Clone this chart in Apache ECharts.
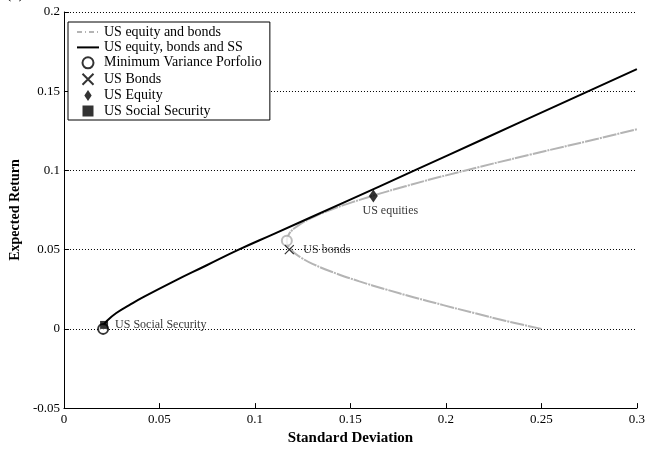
<!DOCTYPE html>
<html>
<head>
<meta charset="utf-8">
<script src="https://cdn.jsdelivr.net/npm/echarts@6/dist/echarts.min.js"></script>
<style>
html,body{margin:0;padding:0;background:#fff;}
#c{width:648px;height:451px;}
</style>
</head>
<body>
<div id="c"></div>
<script>
// Efficient frontier: US equity, bonds and Social Security (black)
const ssFrontierSigma = [0.0206, 0.0224, 0.0274, 0.0342, 0.0415, 0.0575, 0.0745, 0.0915, 0.1100, 0.1470, 0.1836, 0.2200, 0.2563, 0.3000];
const ssFrontierMu    = [0.002, 0.005, 0.010, 0.015, 0.020, 0.030, 0.040, 0.050, 0.060, 0.080, 0.100, 0.120, 0.140, 0.164];
// Efficient frontier: US equity and bonds (gray)
const ebFrontierSigma = [0.2500, 0.2315, 0.2149, 0.1986, 0.1830, 0.1683, 0.1547, 0.1425, 0.1321, 0.1241, 0.1189, 0.1167, 0.1179, 0.1224, 0.1297, 0.1394, 0.1511, 0.1788, 0.2103, 0.2442, 0.2795, 0.3000];
const ebFrontierMu    = [0.000, 0.005, 0.010, 0.015, 0.020, 0.025, 0.030, 0.035, 0.040, 0.045, 0.050, 0.0557, 0.060, 0.065, 0.070, 0.075, 0.080, 0.090, 0.100, 0.110, 0.120, 0.126];
// Points
const minVarSigma = [0.0205, 0.1167];
const minVarMu    = [0.000, 0.0557];
const bondsPoint  = [0.118, 0.050];
const equityPoint = [0.162, 0.0838];
const ssPoint     = [0.021, 0.0025];
const xTicks = [0, 0.05, 0.1, 0.15, 0.2, 0.25, 0.3];
const yTicks = [-0.05, 0, 0.05, 0.1, 0.15, 0.2];

const FONT = 'Liberation Serif';
const zip = (a, b) => a.map((v, i) => [v, b[i]]);
const DIAMOND = 'path://M4,0L8,6L4,12L0,6Z';
const SQUARE = 'path://M0,0H8V8H0Z';
const CROSS = 'path://M0,0L10,10M10,0L0,10';

const chart = echarts.init(document.getElementById('c'), null, {renderer: 'canvas'});
chart.setOption({
  animation: false,
  backgroundColor: '#fff',
  textStyle: {fontFamily: FONT},
  graphic: [{
    type: 'text', left: 6, top: -14,
    style: {text: '(a)', font: '16px "Liberation Serif"', fill: '#000'}
  }],
  grid: {left: 56, right: 8, top: 12, bottom: 39, containLabel: false},
  legend: {
    left: 68, top: 22, orient: 'vertical',
    backgroundColor: '#fff',
    borderColor: '#000', borderWidth: 1,
    padding: [3, 8, 2, 8],
    itemWidth: 22, itemHeight: 11, itemGap: 1.4,
    textStyle: {fontFamily: FONT, fontSize: 14, lineHeight: 14, color: '#000'},
    data: [
      {name: 'US equity and bonds', itemStyle: {opacity: 0},
        lineStyle: {type: [5, 3, 1, 3], width: 2, color: '#b4b4b4'}},
      {name: 'US equity, bonds and SS', itemStyle: {opacity: 0}},
      {name: 'Minimum Variance Porfolio'},
      {name: 'US Bonds'},
      {name: 'US Equity'},
      {name: 'US Social Security'}
    ]
  },
  xAxis: {
    type: 'value', min: 0, max: 0.3, interval: 0.05,
    name: 'Standard Deviation', nameLocation: 'middle', nameGap: 20,
    nameTextStyle: {fontFamily: FONT, fontWeight: 'bold', fontSize: 15, color: '#000'},
    axisLine: {show: true, onZero: false, lineStyle: {color: '#000', width: 1}},
    axisTick: {show: true, inside: true, length: 5, lineStyle: {color: '#000'}},
    axisLabel: {fontFamily: FONT, fontSize: 13, color: '#000', margin: 5,
      formatter: v => String(+v.toFixed(2))},
    splitLine: {show: false}
  },
  yAxis: {
    type: 'value', min: -0.05, max: 0.2, interval: 0.05,
    name: 'Expected Return', nameLocation: 'middle', nameGap: 38,
    nameTextStyle: {fontFamily: FONT, fontWeight: 'bold', fontSize: 14, color: '#000'},
    axisLine: {show: true, onZero: false, lineStyle: {color: '#000', width: 1}},
    axisTick: {show: true, inside: true, length: 5, lineStyle: {color: '#000'}},
    axisLabel: {fontFamily: FONT, fontSize: 13, color: '#000', margin: 4,
      formatter: v => String(+v.toFixed(2))},
    splitLine: {show: true, lineStyle: {color: '#000', width: 1, type: [1, 2]}}
  },
  series: [
    {
      name: 'US equity and bonds', type: 'line', symbol: 'none', smooth: true,
      data: zip(ebFrontierSigma, ebFrontierMu),
      lineStyle: {color: '#b4b4b4', width: 2, type: [14, 1, 2, 1]},
      itemStyle: {color: '#b4b4b4'}, z: 2
    },
    {
      name: 'US equity, bonds and SS', type: 'line', symbol: 'none', smooth: true,
      data: zip(ssFrontierSigma, ssFrontierMu),
      lineStyle: {color: '#000', width: 2},
      itemStyle: {color: '#000'}, z: 3
    },
    {
      name: 'Minimum Variance Porfolio', type: 'scatter', symbol: 'emptyCircle', symbolSize: 10,
      itemStyle: {color: '#000', borderWidth: 1},
      data: [
        {value: [minVarSigma[0], minVarMu[0]]},
        {value: [minVarSigma[1], minVarMu[1]], itemStyle: {color: '#aaa', borderColor: '#aaa'}}
      ], z: 4
    },
    {
      name: 'US Bonds', type: 'scatter',
      symbol: CROSS, symbolSize: 9,
      itemStyle: {color: 'none', borderColor: '#000', borderWidth: 1.2},
      label: {show: true, position: 'right', distance: 7, formatter: 'US bonds',
        fontFamily: FONT, fontSize: 12, color: '#000'},
      data: [bondsPoint], z: 5
    },
    {
      name: 'US Equity', type: 'scatter', symbol: DIAMOND, symbolSize: [9, 13],
      itemStyle: {color: '#000'},
      label: {show: true, position: 'bottom', distance: 2, offset: [17, 0], formatter: 'US equities',
        fontFamily: FONT, fontSize: 12, color: '#000'},
      data: [equityPoint], z: 5
    },
    {
      name: 'US Social Security', type: 'scatter', symbol: SQUARE, symbolSize: 8,
      itemStyle: {color: '#000'},
      label: {show: true, position: 'right', distance: 7, formatter: 'US Social Security',
        fontFamily: FONT, fontSize: 12, color: '#000'},
      data: [ssPoint], z: 5
    }
  ]
});
</script>
</body>
</html>
